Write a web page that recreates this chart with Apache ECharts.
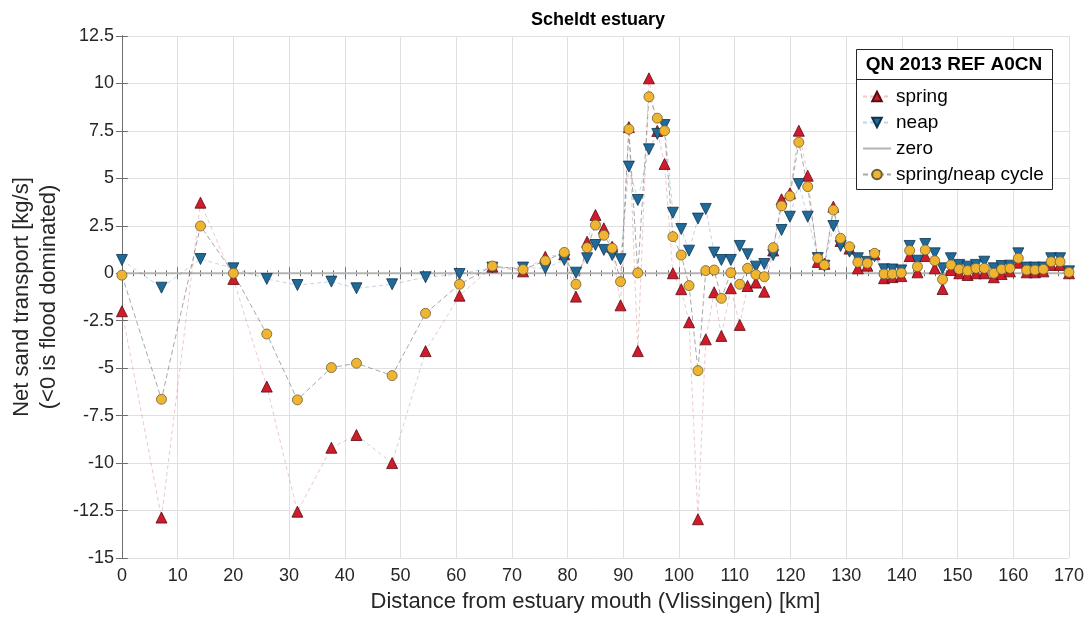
<!DOCTYPE html>
<html>
<head>
<meta charset="utf-8">
<title>Scheldt estuary</title>
<script src="https://cdn.jsdelivr.net/npm/echarts@6/dist/echarts.min.js"></script>
<style>
  html, body { margin: 0; padding: 0; background: #fff; }
  #chart { width: 1090px; height: 625px; }
</style>
</head>
<body>
<div id="chart"></div>
<script>
// distance from mouth [km]
const distance = [
  0, 7.1, 14.1, 20.0, 26.0, 31.5, 37.6, 42.1, 48.5, 54.5,
  60.6, 66.5, 72.0, 76.0, 79.4, 81.5, 83.5, 85.0, 86.5, 88.0,
  89.5, 91.0, 92.6, 94.6, 96.1, 97.4, 98.9, 100.4, 101.8, 103.4,
  104.8, 106.3, 107.6, 109.3, 110.9, 112.3, 113.8, 115.3, 116.9, 118.4,
  119.9, 121.5, 123.1, 124.9, 126.1, 127.7, 129.0, 130.6, 132.1, 133.8,
  135.1, 136.8, 138.3, 139.9, 141.4, 142.8, 144.2, 145.9, 147.3, 148.8,
  150.3, 151.8, 153.3, 154.8, 156.5, 157.9, 159.4, 160.9, 162.4, 163.9,
  165.4, 166.8, 168.4, 170.0
];
const spring = [
  -2.0, -12.87, 3.72, -0.3, -5.97, -12.56, -9.19, -8.52, -10.0, -4.1,
  -1.18, 0.35, 0.1, 0.87, 1.0, -1.23, 1.66, 3.07, 2.37, 1.4,
  -1.69, 7.7, -4.1, 10.27, 7.5, 5.76, 0.0, -0.84, -2.58, -12.96,
  -3.48, -1.0, -3.3, -0.79, -2.72, -0.67, -0.49, -0.97, 1.2, 3.9,
  4.21, 7.51, 5.14, 0.6, 0.5, 3.51, 1.7, 1.3, 0.26, 0.4,
  1.0, -0.26, -0.2, -0.15, 0.91, 0.05, 0.91, 0.26, -0.83, 0.17,
  0.0, -0.09, 0.0, 0.0, -0.21, -0.04, 0.1, 0.56, 0.05, 0.05,
  0.1, 0.44, 0.44, 0.0
];
const neap = [
  0.7, -0.76, 0.75, 0.26, -0.3, -0.62, -0.44, -0.79, -0.58, -0.21,
  -0.04, 0.3, 0.3, 0.26, 0.7, 0.03, 0.79, 1.49, 1.23, 0.96,
  0.74, 5.62, 3.86, 6.53, 7.34, 7.81, 3.19, 2.33, 1.19, 2.88,
  3.39, 1.09, 0.7, 0.7, 1.44, 1.0, 0.35, 0.49, 0.96, 2.28,
  2.98, 4.7, 2.98, 0.8, 0.4, 2.49, 1.44, 1.14, 0.79, 0.6,
  0.9, 0.21, 0.2, 0.15, 1.44, 0.66, 1.54, 1.05, 0.26, 0.79,
  0.44, 0.35, 0.44, 0.61, 0.26, 0.38, 0.4, 1.05, 0.3, 0.3,
  0.3, 0.79, 0.79, 0.1
];
const cycle = [
  -0.1, -6.64, 2.49, 0.0, -3.2, -6.67, -4.97, -4.74, -5.39, -2.11,
  -0.58, 0.38, 0.2, 0.66, 1.1, -0.58, 1.35, 2.54, 2.0, 1.32,
  -0.44, 7.59, 0.02, 9.3, 8.17, 7.51, 1.93, 0.96, -0.65, -5.13,
  0.14, 0.17, -1.32, 0.03, -0.58, 0.26, -0.07, -0.18, 1.35, 3.55,
  4.07, 6.9, 4.56, 0.79, 0.44, 3.33, 1.84, 1.4, 0.58, 0.53,
  1.05, -0.04, -0.04, 0.02, 1.2, 0.35, 1.23, 0.66, -0.32, 0.44,
  0.21, 0.14, 0.26, 0.26, 0.0, 0.21, 0.26, 0.79, 0.17, 0.17,
  0.21, 0.61, 0.61, 0.05
];
const zeroLine = [[0, 0], [170, 0]];

const pairs = (ys) => distance.map((d, i) => [d, ys[i]]);

const chart = echarts.init(document.getElementById("chart"), null, { renderer: "canvas" });
const font = "Liberation Sans, Arial, sans-serif";
const axisGrey = "#6e6e6e";

chart.setOption({
  animation: false,
  textStyle: { fontFamily: font },
  title: {
    text: "Scheldt estuary",
    left: 593,
    top: 6,
    textAlign: "center",
    textStyle: { fontSize: 18, fontWeight: "bold", color: "#000", fontFamily: font },
  },
  grid: { left: 118, right: 21, top: 36, bottom: 67 },
  legend: {
    orient: "vertical",
    left: 862,
    top: 87,
    padding: 0,
    itemWidth: 28,
    itemHeight: 12,
    itemGap: 7,
    z: 5,
    data: [
      "spring",
      "neap",
      { name: "zero", itemStyle: { opacity: 0 } },
      "spring/neap cycle",
    ],
    textStyle: { fontSize: 19, color: "#000", fontFamily: font },
  },
  graphic: [
    {
      type: "rect",
      z: 3,
      shape: { x: 856.5, y: 49.5, width: 196, height: 140 },
      style: { fill: "#fff", stroke: "#262626", lineWidth: 1 },
    },
    {
      type: "line",
      z: 3,
      shape: { x1: 856.5, y1: 79.5, x2: 1052.5, y2: 79.5 },
      style: { stroke: "#262626", lineWidth: 1 },
    },
    {
      type: "text",
      z: 4,
      x: 954,
      y: 65,
      style: {
        text: "QN 2013 REF A0CN",
        fontSize: 19,
        fontWeight: "bold",
        fontFamily: font,
        fill: "#000",
        align: "center",
        verticalAlign: "middle",
      },
    },
  ],
  xAxis: [
    {
      type: "value",
      min: 0,
      max: 170,
      interval: 10,
      name: "Distance from estuary mouth (Vlissingen) [km]",
      nameLocation: "middle",
      nameGap: 33,
      nameTextStyle: { fontSize: 22, color: "#262626" },
      axisLine: { show: true, lineStyle: { color: axisGrey } },
      axisTick: { inside: true, length: 6, lineStyle: { color: axisGrey } },
      minorTick: { show: true, splitNumber: 5, length: 3, lineStyle: { color: axisGrey } },
      axisLabel: { fontSize: 18, color: "#262626", margin: 9 },
      splitLine: { show: true, lineStyle: { color: "#e0e0e0", width: 1 } },
    },
    {
      type: "value",
      position: "top",
      min: 0,
      max: 170,
      interval: 10,
      axisLine: { show: true, lineStyle: { color: axisGrey } },
      axisTick: { inside: true, length: 6, lineStyle: { color: axisGrey } },
      minorTick: { show: true, splitNumber: 5, length: 3, lineStyle: { color: axisGrey } },
      axisLabel: { show: false },
      splitLine: { show: false },
    },
  ],
  yAxis: [
    {
      type: "value",
      min: -15,
      max: 12.5,
      interval: 2.5,
      name: "Net sand transport [kg/s]\n(<0 is flood dominated)",
      nameLocation: "middle",
      nameRotate: 90,
      nameGap: 58,
      nameTextStyle: { fontSize: 22, color: "#262626", lineHeight: 27 },
      axisLine: { show: true, lineStyle: { color: axisGrey } },
      axisTick: { inside: true, length: 6, lineStyle: { color: axisGrey } },
      axisLabel: { fontSize: 18, color: "#262626", margin: 8 },
      splitLine: { show: true, lineStyle: { color: "#e0e0e0", width: 1 } },
    },
    {
      type: "value",
      position: "right",
      min: -15,
      max: 12.5,
      interval: 2.5,
      axisLine: { show: true, lineStyle: { color: axisGrey } },
      axisTick: { inside: true, length: 6, lineStyle: { color: axisGrey } },
      axisLabel: { show: false },
      splitLine: { show: false },
    },
  ],
  series: [
    {
      name: "zero",
      type: "line",
      z: 1,
      data: zeroLine,
      symbol: "none",
      lineStyle: { color: "#b4b4b4", width: 2 },
      itemStyle: { color: "#b4b4b4" },
    },
    {
      name: "spring",
      type: "line",
      data: pairs(spring),
      symbol: "triangle",
      symbolSize: 11,
      lineStyle: { color: "rgba(190,60,60,0.28)", width: 1, type: [4, 3] },
      itemStyle: { color: "#cf1b2b", borderColor: "#5c0a10", borderWidth: 0.8 },
    },
    {
      name: "neap",
      type: "line",
      data: pairs(neap),
      symbol: "triangle",
      symbolRotate: 180,
      symbolSize: 11,
      lineStyle: { color: "rgba(40,100,150,0.28)", width: 1, type: [4, 3] },
      itemStyle: { color: "#1f6a98", borderColor: "#0e3550", borderWidth: 0.8 },
    },
    {
      name: "spring/neap cycle",
      type: "line",
      data: pairs(cycle),
      symbol: "circle",
      symbolSize: 10,
      lineStyle: { color: "rgba(110,110,110,0.6)", width: 1, type: [5, 3] },
      itemStyle: { color: "#f0b530", borderColor: "#6e5e35", borderWidth: 0.8 },
    },
  ],
});
</script>
</body>
</html>
